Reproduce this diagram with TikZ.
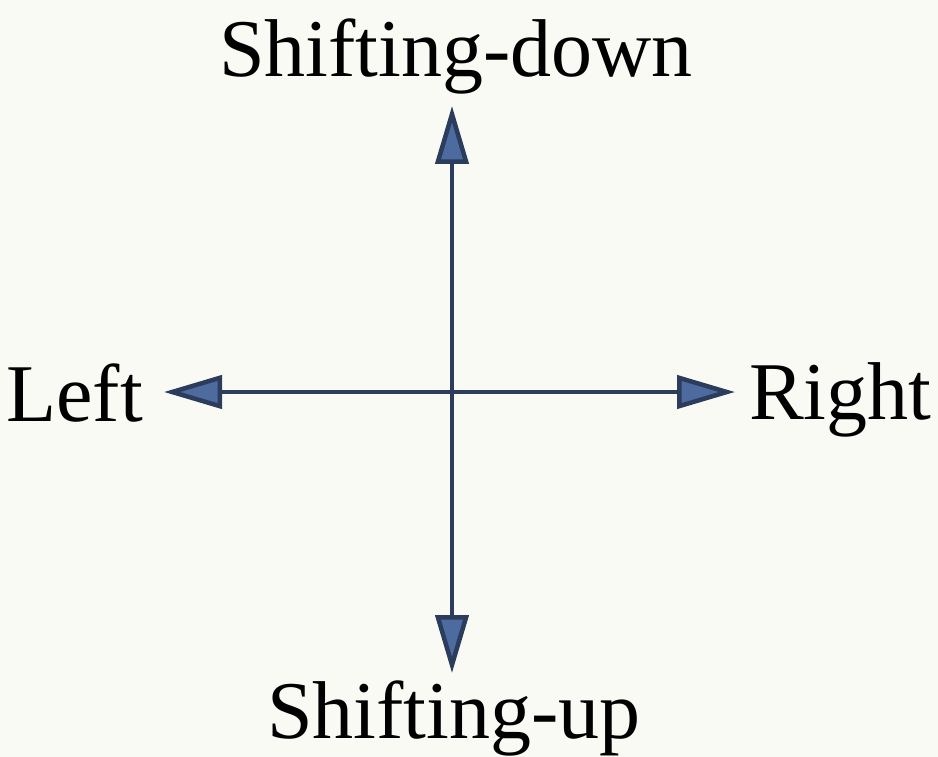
\documentclass[tikz,border=0pt]{standalone}
\usepackage{fontspec}
\setmainfont{Liberation Serif}
\usetikzlibrary{arrows.meta}
\definecolor{ejeAzul}{HTML}{2C3C5C}
\definecolor{puntaAzul}{HTML}{4D6B9E}
\definecolor{fondoPapel}{HTML}{FAFAF4}

\begin{document}
\begin{tikzpicture}[x=1pt, y=-1pt,
        etiq/.style={font=\fontsize{82}{90}\selectfont, text=black, inner sep=0pt},
        eje/.style={-{Triangle[length=58pt, width=33pt, fill=puntaAzul]}, draw=ejeAzul, line width=4.5pt}]
        \fill[fondoPapel] (0,0) rectangle (938,757);
        \useasboundingbox (0,0) rectangle (938,757);
        \coordinate (o) at (452,392);
        \coordinate (pN) at (452,106);
        \coordinate (pS) at (452,673);
        \coordinate (pO) at (164,392);
        \coordinate (pE) at (735,392);
        \foreach \p in {pN,pS,pO,pE} \draw[eje] (o) -- (\p);
        \node[etiq, anchor=base] (abajo) at (456,77) {Shifting-down};
        \node[etiq, anchor=base] (arriba) at (454,738) {Shifting-up};
        \node[etiq, anchor=base east] (izq) at (143,421) {Left};
        \node[etiq, anchor=base west] (der) at (749,419) {Right};
    \end{tikzpicture}
\end{document}
